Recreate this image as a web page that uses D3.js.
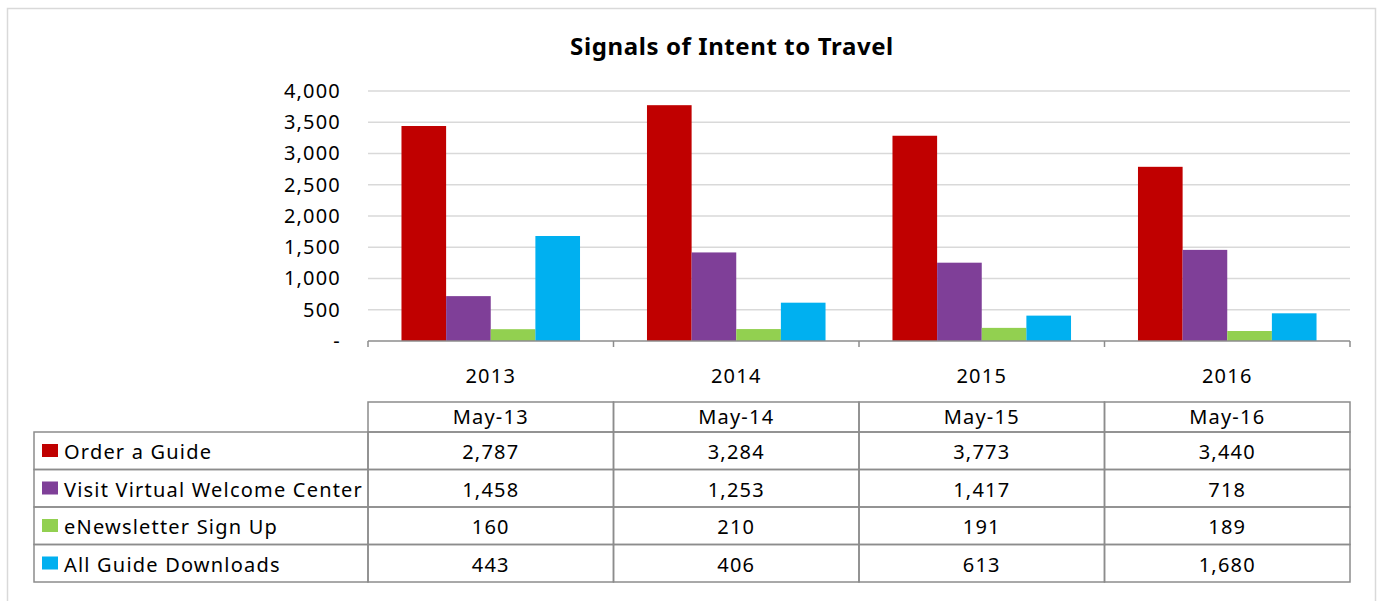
<!DOCTYPE html>
<html>
<head>
<meta charset="utf-8">
<script src="https://cdn.jsdelivr.net/npm/d3@7"></script>
<style>
  body { margin: 0; background: #fff; }
  text { font-family: "Noto Sans", "Open Sans", sans-serif; fill: #000; letter-spacing: 1.2px; }
</style>
</head>
<body>
<div id="chart"></div>
<script>
// data
var years = ["2013", "2014", "2015", "2016"];
var seriesNames = ["Order a Guide", "Visit Virtual Welcome Center", "eNewsletter Sign Up", "All Guide Downloads"];
var orderGuide = [3440, 3773, 3284, 2787];
var visitCenter = [718, 1417, 1253, 1458];
var newsletter = [189, 191, 210, 160];
var downloads = [1680, 613, 406, 443];
var tableHeads = ["May-13", "May-14", "May-15", "May-16"];
var yTicks = [0, 500, 1000, 1500, 2000, 2500, 3000, 3500, 4000];
var colors = ["#c00000", "#7f3f98", "#92d050", "#00b0f0"];

var seriesValues = [orderGuide, visitCenter, newsletter, downloads];

var width = 1380, height = 601;
var fs = "20px";

var svg = d3.select("#chart").append("svg")
    .attr("width", width)
    .attr("height", height);

// outer frame
svg.append("rect")
    .attr("x", 7.5).attr("y", 8.5)
    .attr("width", 1368).attr("height", 620)
    .attr("fill", "none")
    .attr("stroke", "#d9d9d9")
    .attr("stroke-width", 1.5);

svg.append("text")
    .attr("x", 732).attr("y", 55)
    .attr("text-anchor", "middle")
    .style("font-size", "24px")
    .style("font-weight", "bold")
    .style("letter-spacing", "0.6px")
    .text("Signals of Intent to Travel");

// scales
var x0 = d3.scaleBand().domain(years).range([368, 1350]);
var x1 = d3.scaleBand().domain(d3.range(4)).range([0, x0.bandwidth()])
    .paddingInner(0).paddingOuter(0.75);
var y = d3.scaleLinear().domain([0, 4000]).range([341, 91]);

// gridlines
svg.append("g").selectAll("line")
    .data(yTicks.filter(d => d > 0))
    .enter().append("line")
      .attr("x1", 368).attr("x2", 1350)
      .attr("y1", d => y(d)).attr("y2", d => y(d))
      .attr("stroke", "#d9d9d9")
      .attr("stroke-width", 1.3);

// y axis labels
var yAxis = d3.axisLeft(y)
    .tickValues(yTicks)
    .tickSize(0)
    .tickPadding(27)
    .tickFormat(d => d === 0 ? "-" : d3.format(",")(d));
var yg = svg.append("g").attr("transform", "translate(368,0)").call(yAxis);
yg.select(".domain").remove();
yg.selectAll("text").style("font-size", fs).attr("font-family", null);

// bars
var groups = svg.append("g").selectAll("g")
    .data(years)
    .enter().append("g")
      .attr("transform", d => "translate(" + x0(d) + ",0)");

groups.selectAll("rect")
    .data((d, i) => seriesValues.map((s, k) => ({ k: k, v: s[i] })))
    .enter().append("rect")
      .attr("x", d => x1(d.k))
      .attr("width", x1.bandwidth())
      .attr("y", d => y(d.v))
      .attr("height", d => y(0) - y(d.v))
      .attr("fill", d => colors[d.k]);

// x axis with boundary ticks
var xg = svg.append("g");
xg.append("line")
    .attr("x1", 368).attr("x2", 1350)
    .attr("y1", y(0)).attr("y2", y(0))
    .attr("stroke", "#8c8c8c").attr("stroke-width", 1.5);
xg.selectAll("line.tk")
    .data(years.map(d => x0(d)).concat([x0.range()[1]]))
    .enter().append("line")
      .attr("class", "tk")
      .attr("x1", d => d).attr("x2", d => d)
      .attr("y1", y(0)).attr("y2", y(0) + 6)
      .attr("stroke", "#8c8c8c").attr("stroke-width", 1.5);
xg.selectAll("text")
    .data(years)
    .enter().append("text")
      .attr("x", d => x0(d) + x0.bandwidth() / 2)
      .attr("y", 383)
      .attr("text-anchor", "middle")
      .style("font-size", fs)
      .text(d => d);

// data table (columns in the reference list the years in reverse order)
var rows = d3.scaleBand().domain(d3.range(4)).range([432, 582]);
var tbl = svg.append("g");
var lineColor = "#8c8c8c";

// header row
tbl.selectAll("rect.head")
    .data(tableHeads)
    .enter().append("rect")
      .attr("class", "head")
      .attr("x", (d, i) => x0(years[i]))
      .attr("y", 402)
      .attr("width", x0.bandwidth())
      .attr("height", 432 - 402)
      .attr("fill", "none").attr("stroke", lineColor).attr("stroke-width", 1.5);
tbl.selectAll("text.head")
    .data(tableHeads)
    .enter().append("text")
      .attr("class", "head")
      .attr("x", (d, i) => x0(years[i]) + x0.bandwidth() / 2)
      .attr("y", 424)
      .attr("text-anchor", "middle")
      .style("font-size", fs)
      .text(d => d);

// series rows
seriesNames.forEach(function(name, r) {
  var ry = rows(r), rh = rows.bandwidth();
  tbl.append("rect")
      .attr("x", 34).attr("y", ry)
      .attr("width", 368 - 34).attr("height", rh)
      .attr("fill", "none").attr("stroke", lineColor).attr("stroke-width", 1.5);
  tbl.append("rect")
      .attr("x", 42).attr("y", ry + 12)
      .attr("width", 16).attr("height", 13)
      .attr("fill", colors[r]);
  tbl.append("text")
      .attr("x", 64).attr("y", ry + 27)
      .style("font-size", fs)
      .text(name);
  var vals = seriesValues[r].slice().reverse();
  years.forEach(function(yr, c) {
    tbl.append("rect")
        .attr("x", x0(yr)).attr("y", ry)
        .attr("width", x0.bandwidth()).attr("height", rh)
        .attr("fill", "none").attr("stroke", lineColor).attr("stroke-width", 1.5);
    tbl.append("text")
        .attr("x", x0(yr) + x0.bandwidth() / 2)
        .attr("y", ry + 27)
        .attr("text-anchor", "middle")
        .style("font-size", fs)
        .text(d3.format(",")(vals[c]));
  });
});
</script>
</body>
</html>
